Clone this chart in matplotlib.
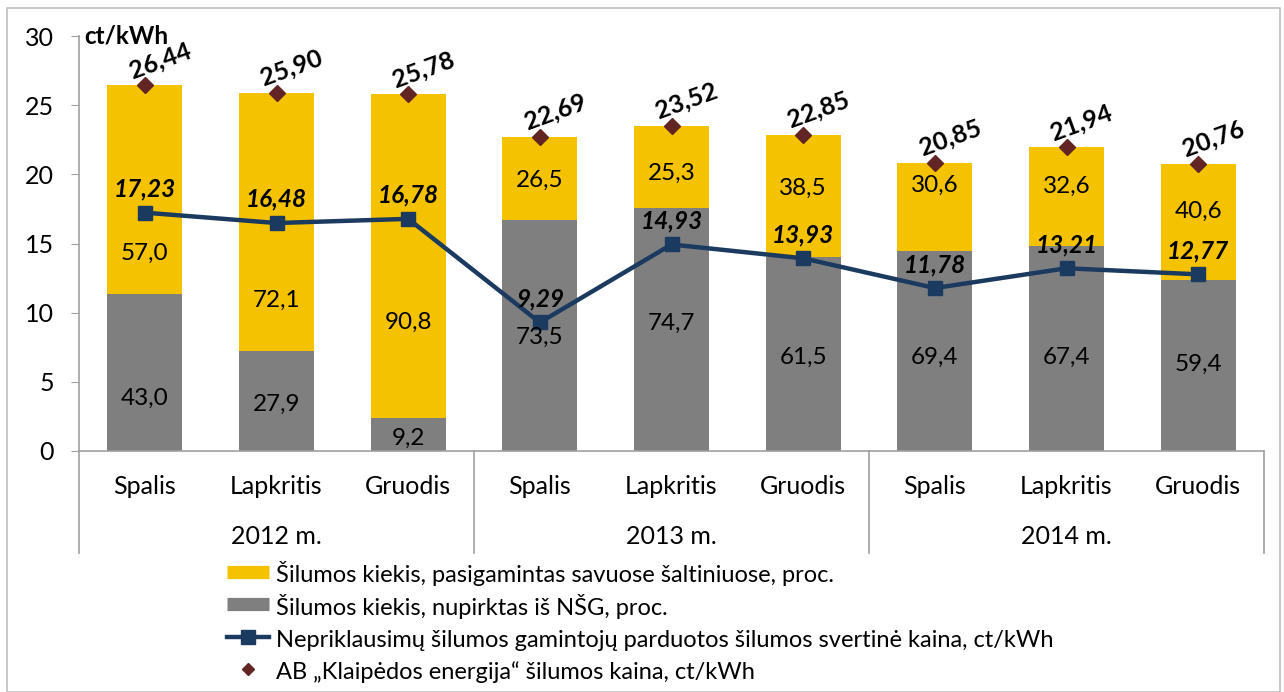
import matplotlib.pyplot as plt
from matplotlib.lines import Line2D
from matplotlib.patches import Rectangle
import matplotlib.transforms as mtrans

plt.rcParams['font.family'] = ['Lato', 'DejaVu Sans']

months = ['Spalis', 'Lapkritis', 'Gruodis'] * 3
years = ['2012 m.', '2013 m.', '2014 m.']
own_pct = [57.0, 72.1, 90.8, 26.5, 25.3, 38.5, 30.6, 32.6, 40.6]
bought_pct = [43.0, 27.9, 9.2, 73.5, 74.7, 61.5, 69.4, 67.4, 59.4]
ke_price = [26.44, 25.90, 25.78, 22.69, 23.52, 22.85, 20.85, 21.94, 20.76]
nsg_price = [17.23, 16.48, 16.78, 9.29, 14.93, 13.93, 11.78, 13.21, 12.77]

# label placement (layout only, in y units)
own_lab_y = [14.3, 10.9, 9.3, 19.6, 20.1, 19.0, 19.2, 19.1, 17.3]
bought_lab_y = [3.8, 3.4, 0.95, 8.2, 9.2, 6.8, 6.8, 6.8, 6.3]

yellow = '#F5C200'
gray = '#7F7F7F'
navy = '#1B3A60'
maroon = '#632523'


def fmt(v, d):
    return f'{v:.{d}f}'.replace('.', ',')


W, H = 1284, 692
fig = plt.figure(figsize=(W / 100, H / 100), dpi=100)
ax = fig.add_axes([79 / W, (H - 451) / H, (1264 - 79) / W, (451 - 36) / H])

x = list(range(len(months)))
gray_h = [p * b / 100 for p, b in zip(ke_price, bought_pct)]
yellow_h = [p * o / 100 for p, o in zip(ke_price, own_pct)]

ax.bar(x, gray_h, width=0.57, color=gray, zorder=2)
ax.bar(x, yellow_h, width=0.57, bottom=gray_h, color=yellow, zorder=2)
ax.plot(x, nsg_price, color=navy, lw=3.2, marker='s', ms=10, zorder=4)
ax.plot(x, ke_price, ls='none', marker='D', color=maroon, ms=8, zorder=5)

for i in x:
    ax.text(i, own_lab_y[i], fmt(own_pct[i], 1), ha='center', va='center',
            fontsize=17.5, zorder=6)
    ax.text(i, bought_lab_y[i], fmt(bought_pct[i], 1), ha='center', va='center',
            fontsize=17.5, zorder=6)
    ax.annotate(fmt(nsg_price[i], 2), (i, nsg_price[i]), xytext=(0, 17),
                textcoords='offset points', ha='center', va='center',
                fontsize=17.5, fontweight='bold', fontstyle='italic', zorder=6)
    ax.annotate(fmt(ke_price[i], 2), (i, ke_price[i]), xytext=(11, 18),
                textcoords='offset points', ha='center', va='center',
                fontsize=18, fontweight='bold', rotation=20, zorder=6)

ax.set_xlim(-0.5, len(months) - 0.5)
ax.set_ylim(0, 30)
ax.set_yticks(range(0, 31, 5))
ax.tick_params(axis='y', labelsize=18, length=6, color='#A0A0A0', pad=12)
ax.set_xticks([])
for s in ['top', 'right']:
    ax.spines[s].set_visible(False)
for s in ['left', 'bottom']:
    ax.spines[s].set_color('#A0A0A0')
    ax.spines[s].set_linewidth(1.2)

trans = mtrans.blended_transform_factory(ax.transData, ax.transAxes)
sep_bottom = -(553 - 451) / (451 - 36)
for sx in [-0.5, 2.5, 5.5, 8.5]:
    ax.add_line(Line2D([sx, sx], [0, sep_bottom], transform=trans,
                       color='#A0A0A0', lw=1.2, clip_on=False))
for i in x:
    ax.text(i, -(486 - 451) / (451 - 36), months[i], transform=trans,
            ha='center', va='center', fontsize=18)
for g, yr in enumerate(years):
    ax.text(3 * g + 1, -(537 - 451) / (451 - 36), yr, transform=trans,
            ha='center', va='center', fontsize=18)

ax.text(84 / W, (H - 36) / H, 'ct/kWh', transform=fig.transFigure,
        ha='left', va='center', fontsize=17.5, fontweight='bold')

# thick lines stand in for the bar patches so every legend row has equal height
handles = [
    Line2D([], [], color=yellow, lw=9.5, solid_capstyle='butt'),
    Line2D([], [], color=gray, lw=9.5, solid_capstyle='butt'),
    Line2D([], [], color=navy, lw=3.2, marker='s', ms=10),
    Line2D([], [], ls='none', color=maroon, marker='D', ms=6),
]
labels = [
    'Šilumos kiekis, pasigamintas savuose šaltiniuose, proc.',
    'Šilumos kiekis, nupirktas iš NŠG, proc.',
    'Nepriklausimų šilumos gamintojų parduotos šilumos svertinė kaina, ct/kWh',
    'AB „Klaipėdos energija“ šilumos kaina, ct/kWh',
]
fig.legend(handles, labels, loc='upper left', bbox_to_anchor=(218 / W, (H - 552) / H),
           frameon=False, fontsize=17, handlelength=1.75, handleheight=1.3,
           handletextpad=0.3, labelspacing=0.27, borderaxespad=0)

fig.patches.append(Rectangle((7 / W, 0), (1280 - 7) / W, (H - 8) / H,
                             transform=fig.transFigure, fill=False,
                             edgecolor='#BFBFBF', lw=1.2))

fig.savefig('out.png', dpi=100)
